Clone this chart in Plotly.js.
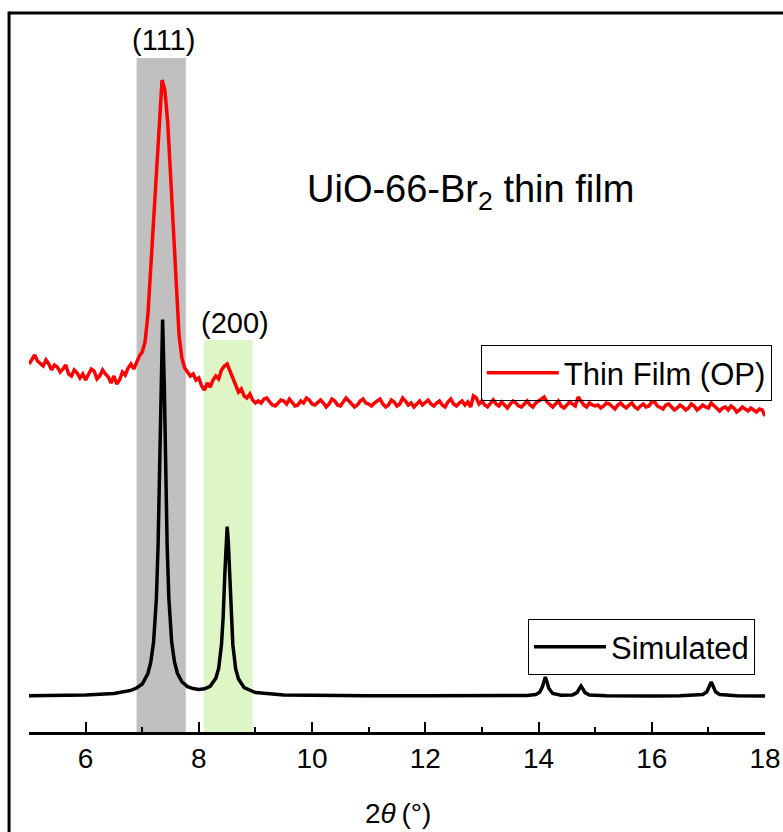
<!DOCTYPE html>
<html>
<head>
<meta charset="utf-8">
<script src="https://cdn.plot.ly/plotly-3.0.1.min.js"></script>
<style>
  html, body { margin: 0; padding: 0; background: #ffffff; }
  #chart { width: 783px; height: 832px; }
</style>
</head>
<body>
<div id="chart"></div>
<script>
// ---- Data (intensity in arbitrary units) ----
// Thin film (OP) measured pattern, sampled every 0.05 deg from 5.00 to 18.00
var filmStart = 5.0;
var filmStep = 0.05;
var filmIntensity = [
  368,373,377,371,369,366,372,368,362,367,   // 5.00-5.45
  365,360,363,367,358,356,362,359,354,358,   // 5.50-5.95
  352,357,363,361,353,356,362,358,355,349,   // 6.00-6.45
  356,348,352,360,357,364,368,363,370,376,   // 6.50-6.95
  380,390,417,464,517,567,617,652,642,610,   // 7.00-7.45
  557,504,447,397,374,364,360,356,358,352,   // 7.50-7.95
  354,346,342,349,345,352,356,353,362,366,   // 8.00-8.45
  368,361,354,346,340,343,336,334,338,332,   // 8.50-8.95
  329,                                        // 9.00
  331,329,333,334,330,327,326,329,332,331,328,333,330,326,327,331,329,334,332,328, // 9.05-10.00
  327,330,332,329,325,328,333,331,327,326,330,334,331,328,325,327,331,333,329,328, // 10.05-11.00
  326,329,331,333,328,325,327,332,330,326,328,334,331,327,329,325,328,331,327,329, // 11.05-12.00
  332,328,326,329,331,327,325,330,333,328,326,329,331,327,330,325,336,334,328,331, // 12.05-13.00
  327,325,329,332,328,326,330,327,324,328,331,329,326,325,328,331,327,325,329,331, // 13.05-14.00
  333,335,330,327,325,328,331,326,324,327,330,328,326,335,331,327,325,329,327,326, // 14.05-15.00
  327,324,326,329,328,325,323,327,329,326,324,327,329,325,323,326,328,325,326,330, // 15.05-16.00
  330,326,324,323,327,328,325,322,324,327,325,322,324,328,326,322,324,327,325,324, // 16.05-17.00
  329,326,323,321,324,325,322,326,324,320,322,325,323,321,324,322,320,323,322,316  // 17.05-18.00
];

// Simulated pattern
var simAngle = [
  5.0, 5.5, 6.0, 6.5, 6.8, 6.9, 7.0, 7.1, 7.15, 7.2, 7.25, 7.28, 7.31, 7.33, 7.36,
  7.39, 7.41, 7.44, 7.47, 7.52, 7.57, 7.62, 7.7, 7.8, 7.9, 8.0, 8.1, 8.2, 8.3, 8.35,
  8.4, 8.43, 8.46, 8.48, 8.5, 8.52, 8.54, 8.57, 8.6, 8.65, 8.7, 8.8, 9.0, 9.5, 10.0,
  11.0, 12.0, 13.0, 13.5, 13.8, 13.95, 14.02, 14.07, 14.1, 14.12, 14.15, 14.18, 14.25, 14.4,
  14.6, 14.68, 14.72, 14.75, 14.78, 14.82, 14.9, 15.2, 16.0, 16.5, 16.9, 16.97, 17.02, 17.05,
  17.08, 17.13, 17.2, 17.5, 18.0
];
var simIntensity = [
  36.3, 36.6, 37.0, 38.5, 41.6, 44.0, 48.0, 58.5, 69.5, 89.5, 133.5, 186.5, 272.5, 346.5, 412.5,
  346.5, 272.5, 186.5, 134.0, 90.0, 70.0, 59.0, 50.3, 45.4, 43.4, 42.6, 43.2, 45.7, 53.8, 63.6,
  87.5, 115.5, 159.4, 190.4, 205.4, 190.4, 159.2, 115.3, 87.3, 63.2, 53.1, 44.3, 39.4, 37.0, 36.5,
  36.3, 36.2, 36.2, 36.4, 36.5, 37.5, 39.8, 45.5, 52.4, 55.0, 50.0, 43.8, 38.5, 36.8,
  37.1, 39.4, 43.4, 46.0, 43.4, 39.4, 37.0, 36.2, 36.1, 36.2, 37.4, 39.9, 46.3, 50.0,
  46.3, 39.9, 37.4, 36.2, 36.0
];

// Reflection bands (deg) and labels
var bandLabels = ['(111)', '(200)'];
var bandStart = [6.90, 8.09];
var bandEnd = [7.77, 8.95];
var bandTop = [674, 392];
var bandLabelX = [7.38, 8.63];
var bandLabelY = [692, 409];

var seriesNames = ['Thin Film (OP)', 'Simulated'];
var xTickVals = [6, 8, 10, 12, 14, 16, 18];
var chartTitle = 'UiO-66-Br<sub>2</sub> thin film';
var xAxisTitle = '2<i>θ</i>\u2009(°)';

// ---- Chart ----
var FONT = 'Arial, "Liberation Sans", sans-serif';

var traces = [
  {
    type: 'scatter', mode: 'lines', name: seriesNames[0],
    x0: filmStart, dx: filmStep, y: filmIntensity,
    line: { color: '#ff0000', width: 3.5 },
    legend: 'legend'
  },
  {
    type: 'scatter', mode: 'lines', name: seriesNames[1],
    x: simAngle, y: simIntensity,
    line: { color: '#000000', width: 3.5 },
    legend: 'legend2'
  }
];

var shapes = [
  { type: 'rect', xref: 'x', yref: 'y', x0: bandStart[0], x1: bandEnd[0], y0: 0, y1: bandTop[0],
    fillcolor: '#c0c0c0', line: { width: 0 }, layer: 'below' },
  { type: 'rect', xref: 'x', yref: 'y', x0: bandStart[1], x1: bandEnd[1], y0: 0, y1: bandTop[1],
    fillcolor: '#def5c6', line: { width: 0 }, layer: 'below' },
  // outer frame (top and left edges)
  { type: 'line', xref: 'paper', yref: 'paper', x0: -0.0271, x1: 1.05, y0: 1.0, y1: 1.0,
    line: { color: '#000', width: 3 } },
  { type: 'line', xref: 'paper', yref: 'paper', x0: -0.0271, x1: -0.0271, y0: 1.002, y1: -0.2,
    line: { color: '#000', width: 3 } }
];

var annotations = [
  { x: bandLabelX[0], y: bandLabelY[0], xref: 'x', yref: 'y', text: bandLabels[0], showarrow: false,
    font: { family: FONT, size: 29, color: '#000' } },
  { x: bandLabelX[1], y: bandLabelY[1], xref: 'x', yref: 'y', text: bandLabels[1], showarrow: false,
    font: { family: FONT, size: 29, color: '#000' } },
  { x: 12.8, y: 540, xref: 'x', yref: 'y', text: chartTitle, showarrow: false,
    font: { family: FONT, size: 38, color: '#000' } },
  // x-axis title
  { x: 0.5007, y: -0.1127, xref: 'paper', yref: 'paper', xanchor: 'center', yanchor: 'middle',
    text: xAxisTitle, showarrow: false, font: { family: FONT, size: 28, color: '#000' } }
];

var layout = {
  width: 783, height: 832,
  margin: { l: 29, r: 17, t: 13, b: 100, pad: 0 },
  paper_bgcolor: '#ffffff', plot_bgcolor: '#ffffff',
  font: { family: FONT, color: '#000' },
  showlegend: true,
  xaxis: {
    range: [5, 18], tickvals: xTickVals, ticks: 'inside', ticklen: 10, tickwidth: 2,
    tickcolor: '#000', showline: true, linecolor: '#000', linewidth: 2.5,
    showgrid: false, zeroline: false, mirror: false, automargin: false,
    tickfont: { family: FONT, size: 28, color: '#000' },
    minor: { dtick: 1, tick0: 5, ticks: 'inside', ticklen: 5, tickwidth: 2, tickcolor: '#000', showgrid: false }
  },
  yaxis: { range: [0, 719], visible: false, showgrid: false, zeroline: false, fixedrange: true },
  legend: {
    x: 0.613, y: 0.538, xanchor: 'left', yanchor: 'top', itemwidth: 72,
    bordercolor: '#000', borderwidth: 1, bgcolor: 'rgba(255,255,255,0)',
    font: { family: FONT, size: 31, color: '#000' }
  },
  legend2: {
    x: 0.677, y: 0.157, xanchor: 'left', yanchor: 'top', itemwidth: 72,
    bordercolor: '#000', borderwidth: 1, bgcolor: 'rgba(255,255,255,0)',
    font: { family: FONT, size: 31, color: '#000' }
  },
  shapes: shapes,
  annotations: annotations
};

Plotly.newPlot('chart', traces, layout, { displayModeBar: false, staticPlot: true });
</script>
</body>
</html>
